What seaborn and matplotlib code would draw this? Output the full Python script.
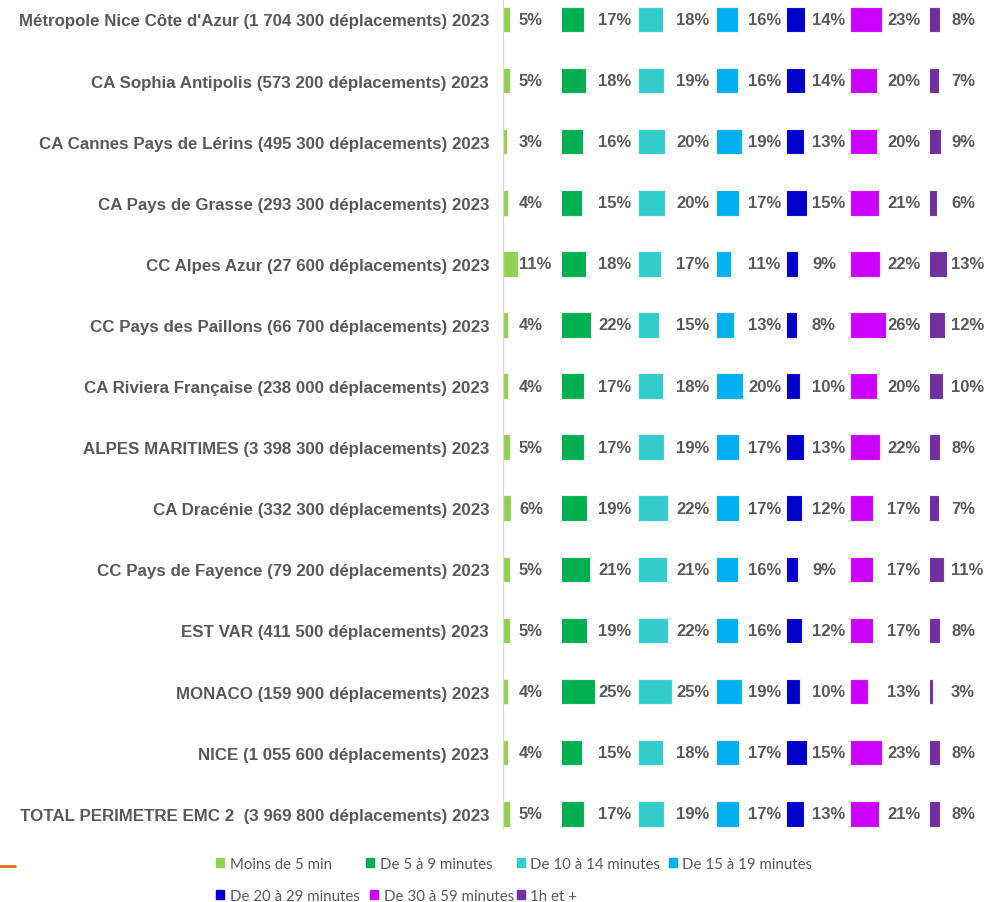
import matplotlib.pyplot as plt
import matplotlib.patches as mpatches
import matplotlib.lines as mlines
import pandas as pd
import seaborn as sns

zones = [
    "Métropole Nice Côte d'Azur (1 704 300 déplacements) 2023",
    "CA Sophia Antipolis (573 200 déplacements) 2023",
    "CA Cannes Pays de Lérins (495 300 déplacements) 2023",
    "CA Pays de Grasse (293 300 déplacements) 2023",
    "CC Alpes Azur (27 600 déplacements) 2023",
    "CC Pays des Paillons (66 700 déplacements) 2023",
    "CA Riviera Française (238 000 déplacements) 2023",
    "ALPES MARITIMES (3 398 300 déplacements) 2023",
    "CA Dracénie (332 300 déplacements) 2023",
    "CC Pays de Fayence (79 200 déplacements) 2023",
    "EST VAR (411 500 déplacements) 2023",
    "MONACO (159 900 déplacements) 2023",
    "NICE (1 055 600 déplacements) 2023",
    "TOTAL PERIMETRE EMC 2  (3 969 800 déplacements) 2023",
]
categories = ["Moins de 5 min", "De 5 à 9 minutes", "De 10 à 14 minutes",
              "De 15 à 19 minutes", "De 20 à 29 minutes", "De 30 à 59 minutes",
              "1h et +"]
moins_5 = [5, 5, 3, 4, 11, 4, 4, 5, 6, 5, 5, 4, 4, 5]
de_5_9 = [17, 18, 16, 15, 18, 22, 17, 17, 19, 21, 19, 25, 15, 17]
de_10_14 = [18, 19, 20, 20, 17, 15, 18, 19, 22, 21, 22, 25, 18, 19]
de_15_19 = [16, 16, 19, 17, 11, 13, 20, 17, 17, 16, 16, 19, 17, 17]
de_20_29 = [14, 14, 13, 15, 9, 8, 10, 13, 12, 9, 12, 10, 15, 13]
de_30_59 = [23, 20, 20, 21, 22, 26, 20, 22, 17, 17, 17, 13, 23, 21]
plus_1h = [8, 7, 9, 6, 13, 12, 10, 8, 7, 11, 8, 3, 8, 8]
colors = ["#92D050", "#00B050", "#33CCCC", "#00B0F0", "#0000CC", "#CC00FF", "#7030A0"]

series = [moins_5, de_5_9, de_10_14, de_15_19, de_20_29, de_30_59, plus_1h]
df = pd.DataFrame({"zone": zones})
for cat, vals in zip(categories, series):
    df[cat] = vals

sns.set_style("white")
plt.rcParams['font.family'] = ['Liberation Sans', 'DejaVu Sans']

W, H = 986, 903
PX_PER_PCT = 1.37
col_left = [503, 561, 638, 716, 786, 850, 929]
col_right = col_left[1:] + [986]
label_px = [16, 37, 38, 32, 26, 37, 22]
txt_color = "#595959"

fig = plt.figure(figsize=(W / 100, H / 100), dpi=100)

for i, cat in enumerate(categories):
    w = col_right[i] - col_left[i]
    ax = fig.add_axes([col_left[i] / W, 1 - 830 / H, w / W, 830 / H])
    sns.barplot(data=df, x=cat, y="zone", orient="h", color=colors[i], saturation=1,
                width=0.42, edgecolor="#F2F2F2", linewidth=0.8, ax=ax)
    ax.set_xlim(0, w / PX_PER_PCT)
    ax.set_ylim(13.25, -0.335)
    ax.set_xlabel("")
    ax.set_ylabel("")
    ax.set_xticks([])
    for s in ["top", "right", "bottom"]:
        ax.spines[s].set_visible(False)
    ax.patch.set_alpha(0)
    lx = label_px[i] / PX_PER_PCT
    for j, v in enumerate(df[cat]):
        ax.text(lx, j, f"{v}%", ha="left", va="center", fontsize=12,
                fontweight="bold", color=txt_color)
    if i == 0:
        ax.spines["left"].set_color("#D9D9D9")
        ax.tick_params(axis="y", length=0, pad=10, labelsize=12.2, labelcolor=txt_color)
        for t in ax.get_yticklabels():
            t.set_fontweight("bold")
    else:
        ax.spines["left"].set_visible(False)
        ax.set_yticks([])

# legend laid out on Excel-like grid: two rows
leg_pos = [(216, 865), (366, 865), (517, 865), (669, 865),
           (216, 897), (370, 897), (517, 897)]
leg_kw = dict(frameon=False, loc="center left", borderpad=0, borderaxespad=0,
              handlelength=0.5, handleheight=0.5, handletextpad=0.4,
              prop={"family": "Lato", "size": 10.8}, labelcolor=txt_color)
for c, l, (px, py) in zip(colors, categories, leg_pos):
    fig.legend(handles=[mpatches.Patch(color=c, label=l)],
               bbox_to_anchor=(px / W, 1 - py / H), **leg_kw)

fig.add_artist(mlines.Line2D([0, 15 / W], [1 - 867 / H] * 2, color="#E46C0A", lw=2))

fig.savefig("out.png", dpi=100)
